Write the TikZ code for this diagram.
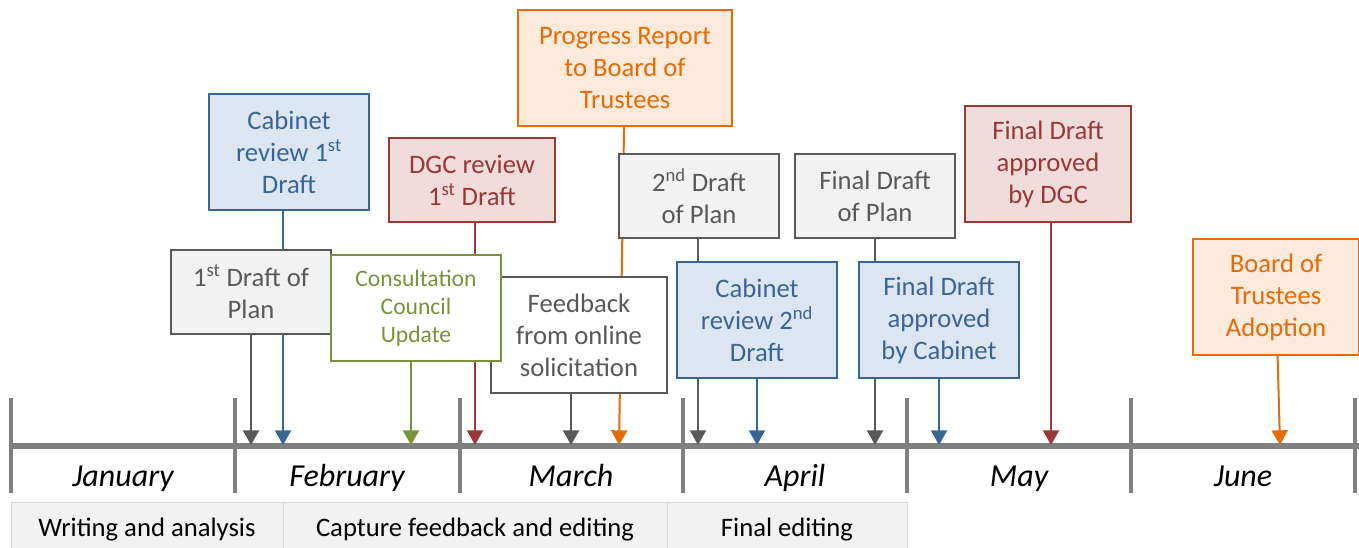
\documentclass[tikz,border=0pt]{standalone}
\usepackage{fontspec}
\setmainfont{Carlito}
\usetikzlibrary{arrows.meta,backgrounds}
\definecolor{plangray}{HTML}{595959}
\definecolor{planfill}{HTML}{F2F2F2}
\definecolor{cabline}{HTML}{3A6496}
\definecolor{cabfill}{HTML}{DCE6F2}
\definecolor{dgcline}{HTML}{983937}
\definecolor{dgcfill}{HTML}{F2DCDB}
\definecolor{consline}{HTML}{77933C}
\definecolor{boardline}{HTML}{E46C0A}
\definecolor{boardfill}{HTML}{FDEADA}
\definecolor{axisgray}{HTML}{808080}
\definecolor{phaseline}{HTML}{D9D9D9}

\begin{document}
\begin{tikzpicture}[x=0.75pt, y=-0.75pt,
  every node/.style={font=\fontsize{20}{24}\selectfont, align=center, inner sep=0pt},
  event/.style={rectangle, draw, line width=1.5pt, minimum width=120pt, minimum height=87pt},
  planbox/.style={event, draw=plangray, fill=planfill, text=plangray},
  cabbox/.style={event, draw=cabline, fill=cabfill, text=cabline},
  dgcbox/.style={event, draw=dgcline, fill=dgcfill, text=dgcline},
  consbox/.style={event, draw=consline, fill=white, text=consline, font=\fontsize{17.7}{21}\selectfont},
  feedbox/.style={event, draw=plangray, fill=white, text=plangray},
  boardbox/.style={event, draw=boardline, fill=boardfill, text=boardline},
  link/.style={line width=1.5pt, -{Triangle[width=12pt,length=11pt]}},
  month/.style={font=\fontsize{24}{29}\selectfont\itshape, anchor=base},
  phase/.style={draw=phaseline, fill=planfill, line width=0.75pt, minimum height=36pt, text height=18pt, text depth=3pt}]

\useasboundingbox (0,0) rectangle (1359,548);

\coordinate (tdraft1) at (251,445);
\coordinate (tcab1) at (283,445);
\coordinate (tcons) at (411,445);
\coordinate (tdgc1) at (475,445);
\coordinate (tfeed) at (571,445);
\coordinate (tprog) at (619,445);
\coordinate (tdraft2) at (698,445);
\coordinate (tcab2) at (757,445);
\coordinate (tfdplan) at (875,445);
\coordinate (tfdcab) at (939,445);
\coordinate (tfddgc) at (1051,445);
\coordinate (tboard) at (1280,445);

\node[cabbox] (cab1) at (289,152) {Cabinet\\review 1\textsuperscript{st}\\Draft};
\node[dgcbox, minimum width=124.5pt, minimum height=63pt] (dgc1) at (472,180) {DGC review\\1\textsuperscript{st} Draft};
\node[boardbox, minimum width=160.5pt] (prog) at (625,68) {Progress Report\\to Board of\\Trustees};
\node[planbox, minimum height=63pt] (draft2) at (699,196) {2\textsuperscript{nd} Draft\\of Plan};
\node[planbox, minimum height=63pt] (fdplan) at (875,196) {Final Draft\\of Plan};
\node[dgcbox, minimum width=124.5pt] (fddgc) at (1048,164) {Final Draft\\approved\\by DGC};
\node[planbox, minimum height=63pt] (draft1) at (251,292) {1\textsuperscript{st} Draft of\\Plan};
\node[feedbox, minimum width=132pt] (feed) at (579,335) {Feedback\\from online\\solicitation};
\node[consbox, minimum width=127.5pt, minimum height=80pt] (cons) at (416,308) {Consultation\\Council\\Update};
\node[cabbox] (cab2) at (757,320) {Cabinet\\review 2\textsuperscript{nd}\\Draft};
\node[cabbox] (fdcab) at (939,320) {Final Draft\\approved\\by Cabinet};
\node[boardbox, minimum width=124.5pt] (board) at (1276,297) {Board of\\Trustees\\Adoption};

\node[month] (jan) at (123,486) {January};
\node[month] (feb) at (347,486) {February};
\node[month] (mar) at (571,486) {March};
\node[month] (apr) at (795,486) {April};
\node[month] (may) at (1019,486) {May};
\node[month] (jun) at (1243,486) {June};

\node[phase, minimum width=204pt] (write) at (147,526) {Writing and analysis};
\node[phase, minimum width=288pt] (capture) at (475,526) {Capture feedback and editing};
\node[phase, minimum width=180pt] (edit) at (787,526) {Final editing};

\begin{scope}[on background layer]
\draw[axisgray, line width=3.75pt] (11,446) -- (1359,446);
\foreach \x in {11,235,460,683,907,1131,1355}
  \draw[axisgray, line width=3pt] (\x,398) -- (\x,493);

\draw[link, plangray] (draft1) -- (tdraft1);
\draw[link, cabline] (cab1.south -| tcab1) -- (tcab1);
\draw[link, consline] (cons.south -| tcons) -- (tcons);
\draw[link, dgcline] (dgc1.south -| tdgc1) -- (tdgc1);
\draw[link, plangray] (feed.south -| tfeed) -- (tfeed);
\draw[link, boardline] (prog) -- (tprog);
\draw[link, plangray] (draft2.south -| tdraft2) -- (tdraft2);
\draw[link, cabline] (cab2) -- (tcab2);
\draw[link, plangray] (fdplan) -- (tfdplan);
\draw[link, cabline] (fdcab) -- (tfdcab);
\draw[link, dgcline] (fddgc.south -| tfddgc) -- (tfddgc);
\draw[link, boardline] (board) -- (tboard);
\end{scope}

\end{tikzpicture}
\end{document}
